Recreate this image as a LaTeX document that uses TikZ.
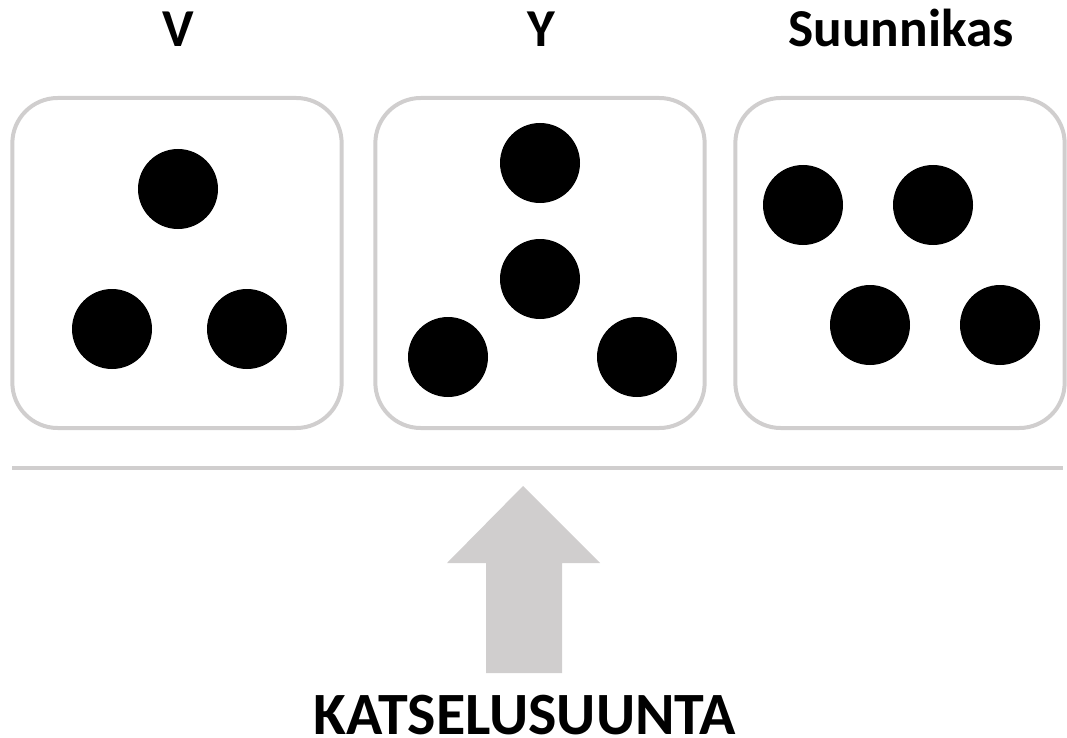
\documentclass[tikz,border=0pt]{standalone}
\usepackage{fontspec}
\setmainfont{Carlito}
\usetikzlibrary{positioning}
\definecolor{boxgray}{RGB}{208,206,206}

\begin{document}
\begin{tikzpicture}[x=0.75pt,y=-0.75pt,
                    box node/.style={rectangle,draw=boxgray,line width=3pt,rounded corners=34pt,
                                     minimum width=247pt,minimum height=247.5pt},
                    dot node/.style={circle,fill=black,inner sep=0pt,minimum size=60pt},
                    label node/.style={anchor=base,inner sep=0pt,text depth=0pt,
                                       font=\fontsize{40}{48}\selectfont\bfseries}]
  \useasboundingbox (0,0) rectangle (1067,738);
  % the three boxes
  \node[box node] (b1) at (177,263) {};
  \node[box node] (b2) at (540,263) {};
  \node[box node] (b3) at (900,263) {};
  \node[label node] (l1) at (178,47) {V};
  \node[label node] (l2) at (541,47) {Y};
  \node[label node] (l3) at (901,47) {Suunnikas};
  % V
  \node[dot node] (v1) at (178,189) {};
  \node[dot node] (v2) at (112,329) {};
  \node[dot node] (v3) at (247,329) {};
  % Y
  \node[dot node] (y1) at (540,163) {};
  \node[dot node] (y2) at (540,279) {};
  \node[dot node] (y3) at (448,357) {};
  \node[dot node] (y4) at (637,357) {};
  % Suunnikas
  \node[dot node] (s1) at (803,205) {};
  \node[dot node] (s2) at (933,205) {};
  \node[dot node] (s3) at (870,325) {};
  \node[dot node] (s4) at (1000,325) {};
  % ground line and viewing direction
  \coordinate (gl) at (12,468);
  \coordinate (gr) at (1063,468);
  \draw[boxgray,line width=3pt] (gl) -- (gr);
  \fill[boxgray] (523,486) -- (600,563) -- (562,563) -- (562,673)
                 -- (486,673) -- (486,563) -- (447,563) -- cycle;
  \node[label node,font=\fontsize{45}{54}\selectfont\bfseries] (view) at (525,734) {KATSELUSUUNTA};
\end{tikzpicture}
\end{document}
